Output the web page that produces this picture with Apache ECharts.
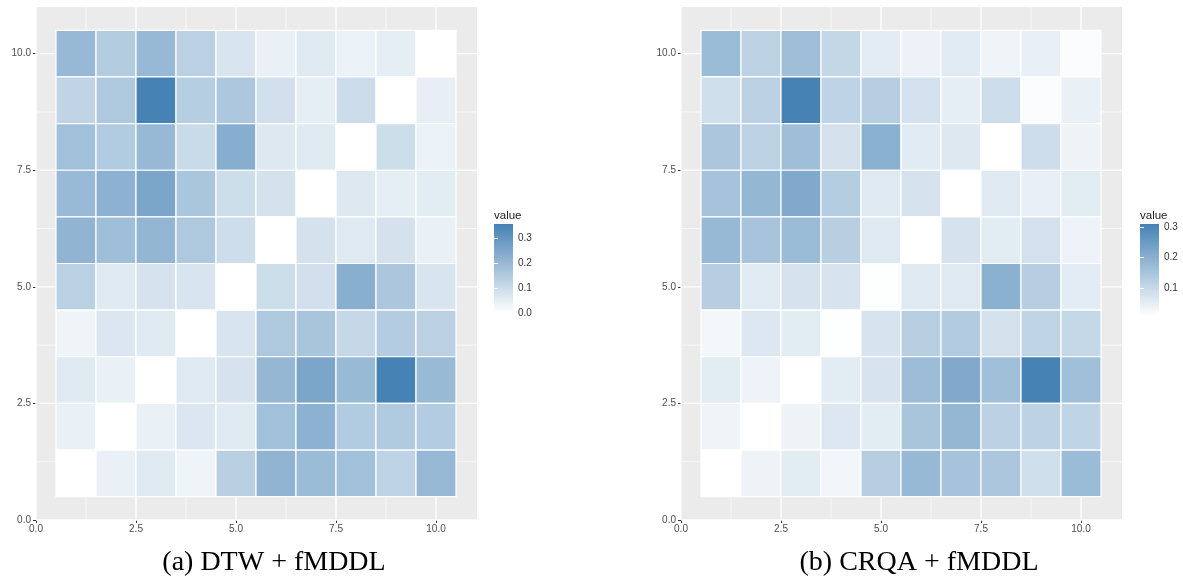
<!DOCTYPE html>
<html><head><meta charset="utf-8">
<script src="https://cdn.jsdelivr.net/npm/echarts@6/dist/echarts.min.js"></script>
<style>html,body{margin:0;padding:0;background:#fff}#c{width:1183px;height:583px}</style>
</head><body><div id="c"></div>
<script>
// ---- data ----
const xValues = [1, 2, 3, 4, 5, 6, 7, 8, 9, 10];
const yValues = [10, 9, 8, 7, 6, 5, 4, 3, 2, 1]; // row order of the matrices below
const dtwRows = [
  [0.200, 0.146, 0.199, 0.131, 0.074, 0.042, 0.059, 0.040, 0.049, 0.000],
  [0.121, 0.155, 0.355, 0.140, 0.157, 0.089, 0.049, 0.098, 0.000, 0.047],
  [0.180, 0.149, 0.199, 0.104, 0.231, 0.064, 0.061, 0.000, 0.095, 0.040],
  [0.195, 0.219, 0.254, 0.163, 0.095, 0.083, 0.000, 0.064, 0.049, 0.055],
  [0.212, 0.185, 0.208, 0.155, 0.096, 0.000, 0.081, 0.062, 0.081, 0.042],
  [0.132, 0.061, 0.079, 0.074, 0.000, 0.095, 0.087, 0.227, 0.159, 0.074],
  [0.030, 0.070, 0.061, 0.000, 0.074, 0.155, 0.166, 0.110, 0.144, 0.131],
  [0.061, 0.042, 0.000, 0.061, 0.079, 0.204, 0.254, 0.197, 0.355, 0.197],
  [0.042, 0.000, 0.042, 0.070, 0.061, 0.180, 0.219, 0.149, 0.151, 0.144],
  [0.000, 0.042, 0.061, 0.030, 0.134, 0.212, 0.191, 0.180, 0.125, 0.202]
];
const crqaRows = [
  [0.171, 0.116, 0.165, 0.104, 0.054, 0.039, 0.057, 0.034, 0.046, 0.016],
  [0.085, 0.119, 0.310, 0.114, 0.126, 0.081, 0.049, 0.090, 0.016, 0.044],
  [0.145, 0.116, 0.165, 0.077, 0.199, 0.057, 0.063, 0.008, 0.090, 0.036],
  [0.153, 0.183, 0.215, 0.129, 0.060, 0.075, 0.008, 0.060, 0.046, 0.055],
  [0.176, 0.150, 0.171, 0.124, 0.062, 0.008, 0.075, 0.055, 0.081, 0.037],
  [0.126, 0.057, 0.075, 0.073, 0.011, 0.062, 0.060, 0.197, 0.126, 0.054],
  [0.028, 0.065, 0.055, 0.011, 0.073, 0.124, 0.134, 0.080, 0.112, 0.103],
  [0.055, 0.037, 0.008, 0.055, 0.073, 0.170, 0.215, 0.163, 0.310, 0.163],
  [0.034, 0.008, 0.036, 0.065, 0.055, 0.148, 0.181, 0.117, 0.116, 0.112],
  [0.008, 0.036, 0.055, 0.029, 0.126, 0.176, 0.152, 0.145, 0.086, 0.171]
];
const dtwRange = [0, 0.355];
const crqaRange = [0.008, 0.31];
const majorBreaks = [0, 2.5, 5, 7.5, 10];
const minorBreaks = [1.25, 3.75, 6.25, 8.75];
const legendBreaksA = [0, 0.1, 0.2, 0.3];
const legendBreaksB = [0.1, 0.2, 0.3];
const captions = ['(a) DTW + fMDDL', '(b) CRQA + fMDDL'];
const legendTitle = 'value';

// ---- helpers ----
const LOW = '#FFFFFF', HIGH = '#4682B4';
const SANS = '"Liberation Sans", Arial, sans-serif';
function toTriples(rows) {
  const out = [];
  rows.forEach((row, i) => row.forEach((v, j) => out.push([xValues[j], yValues[i], v])));
  return out;
}
function gridLineData() {
  const out = [];
  majorBreaks.forEach(b => { out.push([b, 0, 1]); out.push([b, 1, 1]); });
  minorBreaks.forEach(b => { out.push([b, 0, 0]); out.push([b, 1, 0]); });
  return out;
}
function renderTile(params, api) {
  const x = api.value(0), y = api.value(1);
  const p0 = api.coord([x - 0.5, y + 0.5]);
  const p1 = api.coord([x + 0.5, y - 0.5]);
  return {
    type: 'rect',
    shape: { x: p0[0], y: p0[1], width: p1[0] - p0[0], height: p1[1] - p0[1] },
    style: { fill: api.visual('color'), stroke: '#FFFFFF', lineWidth: 1.2 }
  };
}
function renderGridLine(params, api) {
  const cs = params.coordSys;
  const v = api.value(0), dir = api.value(1), major = api.value(2);
  let shape;
  if (dir === 0) {
    const x = api.coord([v, 0])[0];
    shape = { x1: x, y1: cs.y, x2: x, y2: cs.y + cs.height };
  } else {
    const y = api.coord([0, v])[1];
    shape = { x1: cs.x, y1: y, x2: cs.x + cs.width, y2: y };
  }
  return { type: 'line', shape: shape, style: { stroke: '#FFFFFF', lineWidth: major ? 1.3 : 0.65 } };
}
function renderBar(params, api) {
  const cs = params.coordSys;
  const lo = api.coord([0, api.value(0)])[1];
  const hi = api.coord([0, api.value(1)])[1];
  return {
    type: 'rect',
    shape: { x: cs.x, y: hi, width: cs.width, height: lo - hi },
    style: { fill: { type: 'linear', x: 0, y: 1, x2: 0, y2: 0,
      colorStops: [{ offset: 0, color: LOW }, { offset: 1, color: HIGH }] } }
  };
}
const fmt1 = v => Number(v).toFixed(1);

function panelAxes(gi) {
  const common = {
    gridIndex: gi, type: 'value', min: 0,
    axisLine: { show: false },
    splitLine: { show: false },
    axisTick: { show: true, length: 3, customValues: majorBreaks, lineStyle: { color: '#333333', width: 1 } },
    axisLabel: { customValues: majorBreaks, color: '#4D4D4D', fontSize: 10, fontFamily: SANS }
  };
  const x = JSON.parse(JSON.stringify(common)); x.max = 11.025; x.axisLabel.margin = 4; x.axisLabel.formatter = fmt1;
  const y = JSON.parse(JSON.stringify(common)); y.max = 11.0; y.axisLabel.margin = 5; y.axisLabel.formatter = fmt1;
  return [x, y];
}
function legendAxes(gi, range, breaks) {
  const x = { gridIndex: gi, type: 'value', min: 0, max: 1, show: false };
  const yr = {
    gridIndex: gi, type: 'value', min: range[0], max: range[1], position: 'right', z: 5,
    axisLine: { show: false }, splitLine: { show: false },
    axisTick: { show: true, inside: true, length: 4, customValues: breaks, lineStyle: { color: '#FFFFFF', width: 1 } },
    axisLabel: { customValues: breaks, formatter: fmt1, margin: 5, color: '#333333', fontSize: 10, fontFamily: SANS }
  };
  const yl = {
    gridIndex: gi, type: 'value', min: range[0], max: range[1], position: 'left', z: 5,
    axisLine: { show: false }, splitLine: { show: false },
    axisTick: { show: true, inside: true, length: 4, customValues: breaks, lineStyle: { color: '#FFFFFF', width: 1 } },
    axisLabel: { show: false }
  };
  return [x, yr, yl];
}

const pa = panelAxes(0), pb = panelAxes(1);
const la = legendAxes(2, dtwRange, legendBreaksA), lb = legendAxes(3, crqaRange, legendBreaksB);
const SERIF = '"Liberation Serif", "Times New Roman", serif';

const option = {
  backgroundColor: '#FFFFFF',
  animation: false,
  grid: [
    { left: 36, top: 7, width: 441, height: 513, show: true, backgroundColor: '#EBEBEB', borderWidth: 0 },
    { left: 681, top: 7, width: 441, height: 513, show: true, backgroundColor: '#EBEBEB', borderWidth: 0 },
    { left: 494, top: 224, width: 19, height: 89, show: false },
    { left: 1140, top: 224, width: 19, height: 92, show: false }
  ],
  xAxis: [pa[0], pb[0], la[0], lb[0]],
  yAxis: [pa[1], pb[1], la[1], la[2], lb[1], lb[2]],
  visualMap: [
    { type: 'continuous', show: false, seriesIndex: 0, dimension: 2, min: dtwRange[0], max: dtwRange[1], inRange: { color: [LOW, HIGH] } },
    { type: 'continuous', show: false, seriesIndex: 1, dimension: 2, min: crqaRange[0], max: crqaRange[1], inRange: { color: [LOW, HIGH] } }
  ],
  title: [
    { text: legendTitle, left: 494, top: 210, padding: 0, textStyle: { fontSize: 11.5, fontWeight: 'normal', color: '#1A1A1A', fontFamily: SANS } },
    { text: legendTitle, left: 1140, top: 210, padding: 0, textStyle: { fontSize: 11.5, fontWeight: 'normal', color: '#1A1A1A', fontFamily: SANS } }
  ],
  graphic: [
    { type: 'text', style: { text: captions[0], x: 274, y: 563, align: 'center', verticalAlign: 'middle', fontSize: 28, fontFamily: SERIF, fill: '#000000' } },
    { type: 'text', style: { text: captions[1], x: 919, y: 563, align: 'center', verticalAlign: 'middle', fontSize: 28, fontFamily: SERIF, fill: '#000000' } }
  ],
  series: [
    { type: 'custom', name: 'DTW', xAxisIndex: 0, yAxisIndex: 0, z: 2, renderItem: renderTile, data: toTriples(dtwRows), encode: { x: 0, y: 1 } },
    { type: 'custom', name: 'CRQA', xAxisIndex: 1, yAxisIndex: 1, z: 2, renderItem: renderTile, data: toTriples(crqaRows), encode: { x: 0, y: 1 } },
    { type: 'custom', xAxisIndex: 0, yAxisIndex: 0, z: 1, silent: true, renderItem: renderGridLine, data: gridLineData() },
    { type: 'custom', xAxisIndex: 1, yAxisIndex: 1, z: 1, silent: true, renderItem: renderGridLine, data: gridLineData() },
    { type: 'custom', xAxisIndex: 2, yAxisIndex: 2, z: 1, silent: true, renderItem: renderBar, data: [dtwRange] },
    { type: 'custom', xAxisIndex: 3, yAxisIndex: 4, z: 1, silent: true, renderItem: renderBar, data: [crqaRange] }
  ]
};
const chart = echarts.init(document.getElementById('c'), null, { renderer: 'canvas' });
chart.setOption(option);
</script></body></html>
